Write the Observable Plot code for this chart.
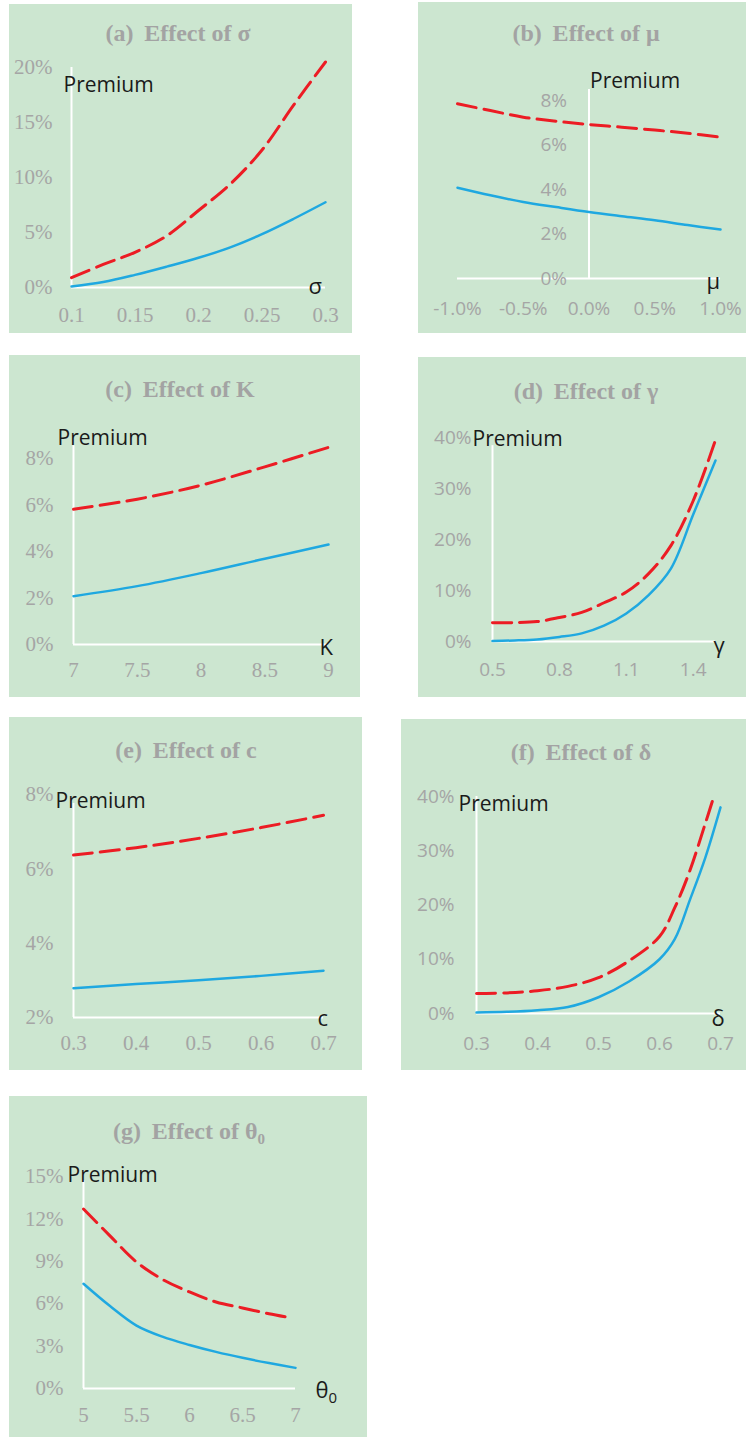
<!DOCTYPE html>
<html>
<head>
<meta charset="utf-8">
<script src="https://cdn.jsdelivr.net/npm/d3@7"></script>
<script src="https://cdn.jsdelivr.net/npm/@observablehq/plot@0.6"></script>
<style>
  body { margin: 0; background: #ffffff; }
  #page { position: relative; width: 746px; height: 1437px; overflow: hidden; background: #ffffff; }
  .panel { position: absolute; background: #cce6d0; }
  .panel svg { position: absolute; left: 0; top: 0; overflow: visible; }
  .title {
    position: absolute; width: 340px; height: 26px; line-height: 26px;
    text-align: center; white-space: pre;
    font-family: "Liberation Serif", "Times New Roman", serif;
    font-weight: bold; font-size: 24px; color: #a3a3a3;
  }
  .title .sub { font-size: 15px; position: relative; top: 5px; }
</style>
</head>
<body>
<div id="page"></div>
<script>
// ---------- (a) Effect of σ ----------
const aSigma  = [0.1, 0.125, 0.15, 0.175, 0.2, 0.225, 0.25, 0.275, 0.3];
const aBlue   = [0.001, 0.005, 0.0115, 0.019, 0.027, 0.0365, 0.0485, 0.0625, 0.0775];
const aRed    = [0.009, 0.021, 0.032, 0.047, 0.070, 0.094, 0.125, 0.166, 0.205];
const aXTicks = [0.1, 0.15, 0.2, 0.25, 0.3];
const aYTicks = [0, 0.05, 0.1, 0.15, 0.2];

// ---------- (b) Effect of μ ----------
const bMu     = [-0.01, -0.0075, -0.005, -0.0025, 0, 0.0025, 0.005, 0.0075, 0.01];
const bBlue   = [0.0408, 0.0374, 0.0344, 0.0321, 0.0299, 0.0280, 0.0262, 0.0240, 0.0220];
const bRed    = [0.0785, 0.0755, 0.0725, 0.0707, 0.0692, 0.0680, 0.0667, 0.0653, 0.0635];
const bXTicks = [-0.01, -0.005, 0, 0.005, 0.01];
const bYTicks = [0, 0.02, 0.04, 0.06, 0.08];

// ---------- (c) Effect of K ----------
const cK      = [7, 7.5, 8, 8.5, 9];
const cBlue   = [0.0208, 0.0251, 0.0307, 0.0369, 0.0430];
const cRed    = [0.0582, 0.0625, 0.0685, 0.0764, 0.0848];
const cXTicks = [7, 7.5, 8, 8.5, 9];
const cYTicks = [0, 0.02, 0.04, 0.06, 0.08];

// ---------- (d) Effect of γ ----------
const dGamma  = [0.5, 0.6, 0.7, 0.8, 0.9, 1.0, 1.1, 1.2, 1.3, 1.4, 1.5];
const dBlue   = [0.001, 0.002, 0.004, 0.009, 0.016, 0.031, 0.055, 0.091, 0.143, 0.249, 0.355];
const dRed    = [0.037, 0.037, 0.039, 0.047, 0.057, 0.076, 0.097, 0.133, 0.188, 0.276, 0.395];
const dXTicks = [0.5, 0.8, 1.1, 1.4];
const dYTicks = [0, 0.1, 0.2, 0.3, 0.4];

// ---------- (e) Effect of c ----------
const eC      = [0.3, 0.4, 0.5, 0.6, 0.7];
const eBlue   = [0.0279, 0.0290, 0.0300, 0.0312, 0.0326];
const eRed    = [0.0637, 0.0657, 0.0682, 0.0711, 0.0744];
const eXTicks = [0.3, 0.4, 0.5, 0.6, 0.7];
const eYTicks = [0.02, 0.04, 0.06, 0.08];

// ---------- (f) Effect of δ ----------
const fDelta    = [0.3, 0.35, 0.4, 0.45, 0.5, 0.55, 0.6, 0.625, 0.65, 0.675, 0.7];
const fBlue     = [0.002, 0.003, 0.006, 0.012, 0.030, 0.059, 0.100, 0.137, 0.210, 0.287, 0.380];
const fDeltaRed = [0.3, 0.35, 0.4, 0.45, 0.5, 0.55, 0.6, 0.625, 0.65, 0.675, 0.688];
const fRed      = [0.037, 0.038, 0.042, 0.050, 0.066, 0.097, 0.142, 0.195, 0.264, 0.350, 0.396];
const fXTicks   = [0.3, 0.4, 0.5, 0.6, 0.7];
const fYTicks   = [0, 0.1, 0.2, 0.3, 0.4];

// ---------- (g) Effect of θ0 ----------
const gTheta    = [5, 5.25, 5.5, 5.75, 6, 6.25, 6.5, 6.75, 7];
const gBlue     = [0.0741, 0.0583, 0.0445, 0.0365, 0.0308, 0.0259, 0.0217, 0.0180, 0.0146];
const gThetaRed = [5, 5.25, 5.5, 5.75, 6, 6.25, 6.5, 6.75, 6.92];
const gRed      = [0.127, 0.108, 0.0895, 0.077, 0.0683, 0.0612, 0.057, 0.0529, 0.0505];
const gXTicks   = [5, 5.5, 6, 6.5, 7];
const gYTicks   = [0, 0.03, 0.06, 0.09, 0.12, 0.15];

// ---------- styling ----------
const BLUE = "#1fa8e0", RED = "#ec1c24", GRAY = "#a5a5a5", INK = "#1a1a1a";
const SERIF = "'Liberation Serif', 'Times New Roman', serif";
const SANS = "'Open Sans', 'Noto Sans', sans-serif";
const pct = d => Math.round(d * 100) + "%";
const pct1 = d => (Math.abs(d) < 1e-12 ? "0.0" : (d * 100).toFixed(1)) + "%";
const num = d => String(d);

// box: [left, top, width, height] on the page; margin: [top, right, bottom, left]
const panels = [
  { title: "(a)\u2009 Effect of σ", box: [9, 4, 343, 329], titleAt: [178, 33], margin: [63, 27, 46, 62],
    x: aSigma, blue: aBlue, red: aRed, xDomain: [0.1, 0.3], yDomain: [0, 0.2],
    xTicks: aXTicks, yTicks: aYTicks, xFormat: num, yFormat: pct, font: "serif",
    yAxisAt: 0.1, yAxisTop: 0.2, yPad: 19, xPad: 20, premium: [-8, 24], symbol: "σ", symbolOff: [-17, 6] },
  { title: "(b)\u2009 Effect of μ", box: [418, 2, 328, 331], titleAt: [586, 33], margin: [98, 26, 55, 39],
    x: bMu, blue: bBlue, red: bRed, xDomain: [-0.01, 0.01], yDomain: [0, 0.08],
    xTicks: bXTicks, yTicks: bYTicks, xFormat: pct1, yFormat: pct, font: "sans", yInside: true,
    yAxisAt: 0, yAxisTop: 0.085, yPad: 22, xPad: 23, premium: [1, -1], symbol: "μ", symbolOff: [-14, 10] },
  { title: "(c)\u2009 Effect of K", box: [9, 355, 351, 342], titleAt: [180, 389], margin: [103, 32, 53, 64],
    x: cK, blue: cBlue, red: cRed, xDomain: [7, 9], yDomain: [0, 0.08],
    xTicks: cXTicks, yTicks: cYTicks, xFormat: num, yFormat: pct, font: "serif",
    yAxisAt: 7, yAxisTop: 0.0855, yPad: 20, xPad: 18, premium: [-16, -1], symbol: "K", symbolOff: [-9, 10] },
  { title: "(d)\u2009 Effect of γ", box: [418, 357, 328, 340], titleAt: [586, 391], margin: [80, 31, 56, 74],
    x: dGamma, blue: dBlue, red: dRed, xDomain: [0.5, 1.5], yDomain: [0, 0.4],
    xTicks: dXTicks, yTicks: dYTicks, xFormat: num, yFormat: pct, font: "sans",
    yAxisAt: 0.5, yAxisTop: 0.384, yPad: 21, xPad: 21, premium: [-20, 0], symbol: "γ", symbolOff: [-2, 11] },
  { title: "(e)\u2009 Effect of c", box: [9, 717, 353, 353], titleAt: [186, 750], margin: [77, 39, 53, 64],
    x: eC, blue: eBlue, red: eRed, xDomain: [0.3, 0.7], yDomain: [0.02, 0.08],
    xTicks: eXTicks, yTicks: eYTicks, xFormat: num, yFormat: pct, font: "serif",
    yAxisAt: 0.3, yAxisTop: 0.0776, yPad: 20, xPad: 18, premium: [-18, 5], symbol: "c", symbolOff: [-6, 8] },
  { title: "(f)\u2009 Effect of δ", box: [401, 719, 345, 351], titleAt: [581, 752], margin: [77, 26, 57, 75],
    x: fDelta, xRed: fDeltaRed, blue: fBlue, red: fRed, xDomain: [0.3, 0.7], yDomain: [0, 0.4],
    xTicks: fXTicks, yTicks: fYTicks, xFormat: num, yFormat: pct, font: "sans",
    yAxisAt: 0.3, yAxisTop: 0.4, yPad: 22, xPad: 23, premium: [-18, 14], symbol: "δ", symbolOff: [-9, 12] },
  { title: "(g)\u2009 Effect of θ<span class=\"sub\">0</span>", box: [9, 1096, 358, 341], titleAt: [189, 1131], margin: [80, 72, 49, 74],
    x: gTheta, xRed: gThetaRed, blue: gBlue, red: gRed, xDomain: [5, 7], yDomain: [0, 0.15],
    xTicks: gXTicks, yTicks: gYTicks, xFormat: num, yFormat: pct, font: "serif",
    yAxisAt: 5, yAxisTop: 0.147, yPad: 20, xPad: 19, premium: [-16, 1], symbol: "θ", symbolOff: [20, 9],
    subscript: "0", subscriptOff: [33, 14] }
];

const page = document.getElementById("page");

for (const p of panels) {
  const [left, top, w, h] = p.box;
  const [mt, mr, mb, ml] = p.margin;
  const font = p.font === "serif" ? SERIF : SANS;
  const fs = p.font === "serif" ? 21 : 19;

  const panel = document.createElement("div");
  panel.className = "panel";
  Object.assign(panel.style, { left: left + "px", top: top + "px", width: w + "px", height: h + "px" });

  const blueRows = p.x.map((x, i) => ({ x, v: p.blue[i] }));
  const redRows = (p.xRed ?? p.x).map((x, i) => ({ x, v: p.red[i] }));

  // y tick labels: beside the frame, or beside the y axis when it sits inside the plot (μ panel)
  const yLabels = p.yInside
    ? Plot.text(p.yTicks, { x: p.yAxisAt, y: d => d, text: p.yFormat, textAnchor: "end", lineAnchor: "middle",
        dx: -p.yPad, fill: GRAY, fontFamily: font, fontSize: fs })
    : Plot.axisY({ ticks: p.yTicks, tickFormat: p.yFormat, tickSize: 0, tickPadding: p.yPad,
        fontFamily: font, fontSize: fs, fill: GRAY, label: null });

  const marks = [
    Plot.ruleY([p.yDomain[0]], { x1: p.xDomain[0], x2: p.xDomain[1], stroke: "white", strokeWidth: 2 }),
    Plot.ruleX([p.yAxisAt], { y1: p.yDomain[0], y2: p.yAxisTop, stroke: "white", strokeWidth: 2 }),
    Plot.axisX({ ticks: p.xTicks, tickFormat: p.xFormat, tickSize: 0, tickPadding: p.xPad,
      fontFamily: font, fontSize: fs, fill: GRAY, label: null }),
    yLabels,
    Plot.line(blueRows, { x: "x", y: "v", stroke: BLUE, strokeWidth: 2.5, curve: "catmull-rom" }),
    Plot.line(redRows, { x: "x", y: "v", stroke: RED, strokeWidth: 3, strokeDasharray: "19,8", curve: "catmull-rom" }),
    Plot.text(["Premium"], { x: p.yAxisAt, y: p.yAxisTop, text: d => d, textAnchor: "start", lineAnchor: "bottom",
      dx: p.premium[0], dy: p.premium[1], fill: INK, fontFamily: SANS, fontSize: 21 }),
    Plot.text([p.symbol], { x: p.xDomain[1], y: p.yDomain[0], text: d => d, textAnchor: "start", lineAnchor: "bottom",
      dx: p.symbolOff[0], dy: p.symbolOff[1], fill: INK, fontFamily: SANS, fontSize: 22 })
  ];
  if (p.subscript) {
    marks.push(Plot.text([p.subscript], { x: p.xDomain[1], y: p.yDomain[0], text: d => d, textAnchor: "start",
      lineAnchor: "bottom", dx: p.subscriptOff[0], dy: p.subscriptOff[1], fill: INK, fontFamily: SANS, fontSize: 15 }));
  }

  const svg = Plot.plot({
    width: w, height: h,
    marginTop: mt, marginRight: mr, marginBottom: mb, marginLeft: ml,
    x: { domain: p.xDomain, label: null },
    y: { domain: p.yDomain, label: null, axis: p.yInside ? null : undefined },
    style: { background: "transparent", color: GRAY, overflow: "visible" },
    marks
  });
  panel.appendChild(svg);

  const title = document.createElement("div");
  title.className = "title";
  title.innerHTML = p.title;
  title.style.left = (p.titleAt[0] - left - 170) + "px";
  title.style.top = (p.titleAt[1] - top - 13) + "px";
  panel.appendChild(title);

  page.appendChild(panel);
}
</script>
</body>
</html>
